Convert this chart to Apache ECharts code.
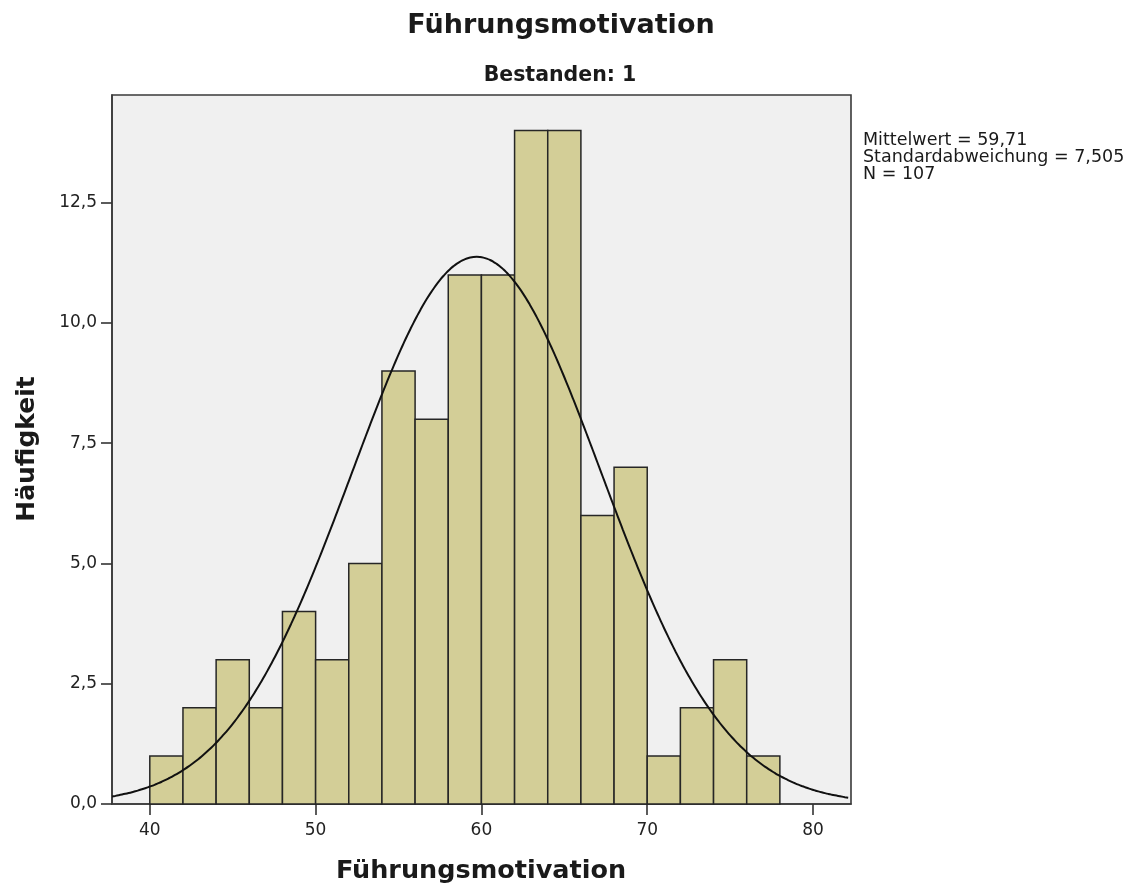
<!DOCTYPE html>
<html>
<head>
<meta charset="utf-8">
<title>Führungsmotivation</title>
<script src="https://cdn.jsdelivr.net/npm/echarts@6/dist/echarts.min.js"></script>
<style>
  html, body { margin: 0; padding: 0; background: #ffffff; }
  #chart { width: 1134px; height: 893px; }
</style>
</head>
<body>
<div id="chart"></div>
<script>
// Histogram classes: lower edge of each class, class width and frequencies
const BIN_STARTS = [40, 42, 44, 46, 48, 50, 52, 54, 56, 58, 60, 62, 64, 66, 68, 70, 72, 74, 76];
const BIN_WIDTH = 2;
const COUNTS = [1, 2, 3, 2, 4, 3, 5, 9, 8, 11, 11, 14, 14, 6, 7, 1, 2, 3, 1];

// Descriptive statistics shown beside the plot
const MEAN = 59.71;
const SD = 7.505;
const N = 107;

// Axis ticks and visible ranges
const X_TICKS = [40, 50, 60, 70, 80];
const Y_TICKS = [0, 2.5, 5, 7.5, 10, 12.5];
const X_MIN = 37.72;
const X_MAX = 82.29;
const Y_MAX = 14.74;

const FONT = '"DejaVu Sans", sans-serif';
const fmt = (v, d) => v.toFixed(d).replace('.', ',');

// Histogram rectangles as [start, end, count]
const histData = BIN_STARTS.map((s, i) => [s, s + BIN_WIDTH, COUNTS[i]]);

// Normal density scaled to the histogram (N * class width)
const scale = N * BIN_WIDTH / (SD * Math.sqrt(2 * Math.PI));
const curveData = [];
for (let x = X_MIN; x <= X_MAX + 1e-9; x += 0.2) {
  const z = (x - MEAN) / SD;
  curveData.push([x, scale * Math.exp(-0.5 * z * z)]);
}

const chart = echarts.init(document.getElementById('chart'), null, { renderer: 'canvas' });

chart.setOption({
  animation: false,
  backgroundColor: '#ffffff',
  grid: {
    left: 112, top: 95, right: 283, bottom: 89,
    show: true,
    backgroundColor: '#f0f0f0',
    borderColor: '#3a3a3a',
    borderWidth: 1.6
  },
  xAxis: {
    type: 'value',
    min: X_MIN,
    max: X_MAX,
    splitLine: { show: false },
    axisLine: { show: true, lineStyle: { color: '#3a3a3a', width: 1.6 } },
    axisTick: { show: true, length: 11, customValues: X_TICKS, lineStyle: { color: '#333', width: 1.6 } },
    axisLabel: {
      customValues: X_TICKS,
      margin: 18,
      color: '#222',
      fontFamily: FONT,
      fontSize: 17,
      formatter: v => String(Math.round(v))
    }
  },
  yAxis: {
    type: 'value',
    min: 0,
    max: Y_MAX,
    splitLine: { show: false },
    axisLine: { show: true, lineStyle: { color: '#3a3a3a', width: 1.6 } },
    axisTick: { show: true, length: 11, customValues: Y_TICKS, lineStyle: { color: '#333', width: 1.6 } },
    axisLabel: {
      customValues: Y_TICKS,
      margin: 15,
      color: '#222',
      fontFamily: FONT,
      fontSize: 17,
      formatter: v => fmt(v, 1)
    }
  },
  series: [
    {
      type: 'custom',
      name: 'Häufigkeit',
      data: histData,
      encode: { x: [0, 1], y: 2 },
      renderItem: (params, api) => {
        const p0 = api.coord([api.value(0), 0]);
        const p1 = api.coord([api.value(1), api.value(2)]);
        return {
          type: 'rect',
          shape: { x: p0[0], y: p1[1], width: p1[0] - p0[0], height: p0[1] - p1[1] },
          style: { fill: '#d3ce97', stroke: '#262626', lineWidth: 1.5 }
        };
      },
      z: 2
    },
    {
      type: 'line',
      name: 'Normalverteilung',
      data: curveData,
      showSymbol: false,
      smooth: true,
      lineStyle: { color: '#111111', width: 2 },
      z: 3
    }
  ],
  graphic: [
    {
      type: 'text', x: 561, y: 26,
      style: { text: 'Führungsmotivation', fontFamily: FONT, fontWeight: 'bold', fontSize: 27,
               fill: '#1a1a1a', textAlign: 'center', textVerticalAlign: 'middle' }
    },
    {
      type: 'text', x: 560, y: 76,
      style: { text: 'Bestanden: 1', fontFamily: FONT, fontWeight: 'bold', fontSize: 20.5,
               fill: '#1a1a1a', textAlign: 'center', textVerticalAlign: 'middle' }
    },
    {
      type: 'text', x: 481, y: 871,
      style: { text: 'Führungsmotivation', fontFamily: FONT, fontWeight: 'bold', fontSize: 25.5,
               fill: '#1a1a1a', textAlign: 'center', textVerticalAlign: 'middle' }
    },
    {
      type: 'text', x: 27, y: 449, rotation: Math.PI / 2,
      style: { text: 'Häufigkeit', fontFamily: FONT, fontWeight: 'bold', fontSize: 25,
               fill: '#1a1a1a', textAlign: 'center', textVerticalAlign: 'middle' }
    },
    {
      type: 'text', x: 863, y: 132,
      style: {
        text: 'Mittelwert = ' + fmt(MEAN, 2) + '\nStandardabweichung = ' + fmt(SD, 3) + '\nN = ' + N,
        fontFamily: FONT, fontSize: 17.5, lineHeight: 17,
        fill: '#1a1a1a', textAlign: 'left', textVerticalAlign: 'top'
      }
    }
  ]
});
</script>
</body>
</html>
